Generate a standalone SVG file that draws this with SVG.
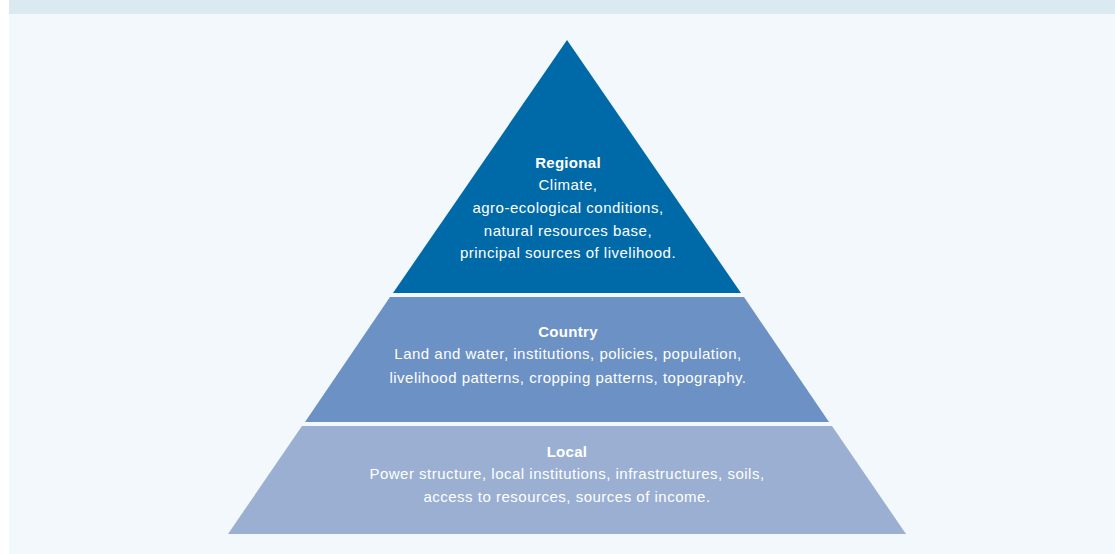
<svg xmlns="http://www.w3.org/2000/svg" width="1115" height="554" viewBox="0 0 1115 554">
<style>
  text { font-family: "Liberation Sans", Arial, sans-serif; font-size: 15px; letter-spacing: 0.5px; fill: #ffffff; text-anchor: middle; }
  .b { font-weight: bold; letter-spacing: 0.3px; }
</style>
<rect x="0" y="0" width="1115" height="554" fill="#ffffff"/>
<rect x="9" y="0" width="1106" height="14" fill="#daeaf0"/>
<rect x="9" y="14" width="1106" height="540" fill="#f2f8fb"/>
<g id="regional">
  <polygon points="567,40 741,293 393,293" fill="#006aa9"/>
  <text x="568" y="168" class="b">Regional</text>
  <text x="568" y="190">Climate,</text>
  <text x="568" y="213">agro-ecological conditions,</text>
  <text x="568" y="236">natural resources base,</text>
  <text x="568" y="258">principal sources of livelihood.</text>
</g>
<g id="country">
  <polygon points="390,297 744,297 829,422 305,422" fill="#6c91c4"/>
  <text x="568" y="337" class="b">Country</text>
  <text x="568" y="359">Land and water, institutions, policies, population,</text>
  <text x="568" y="383">livelihood patterns, cropping patterns, topography.</text>
</g>
<g id="local">
  <polygon points="302,426 832,426 906,534 228,534" fill="#9aafd2"/>
  <text x="567" y="457" class="b">Local</text>
  <text x="567" y="479">Power structure, local institutions, infrastructures, soils,</text>
  <text x="567" y="502">access to resources, sources of income.</text>
</g>
<g id="connectors"></g>
</svg>
